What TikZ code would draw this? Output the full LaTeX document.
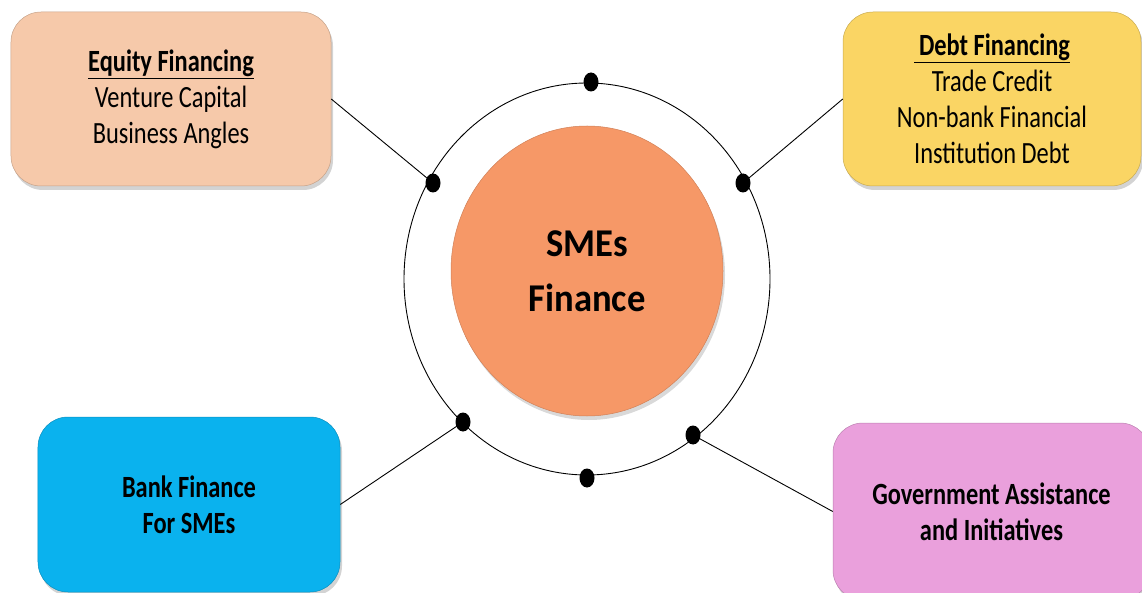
\documentclass[tikz,border=0pt]{standalone}
\usepackage{fontspec}
\setmainfont{Carlito}
\newfontfamily\tallfont[FakeStretch=0.79]{Carlito}
\newfontfamily\hubfont[FakeStretch=0.93]{Carlito}
\usetikzlibrary{shapes.geometric,shadows}

\definecolor{peach}{RGB}{246,201,170}
\definecolor{sun}{RGB}{250,213,100}
\definecolor{sky}{RGB}{10,178,238}
\definecolor{orchid}{RGB}{234,160,220}
\definecolor{coral}{RGB}{246,152,103}

\tikzset{
  topic/.style={rectangle, rounded corners=30bp, align=center,
    font=\tallfont\fontsize{31}{36}\selectfont, text=black,
    draw=#1!80!black, line width=0.5bp, fill=#1,
    drop shadow={shadow xshift=2bp, shadow yshift=-4bp, opacity=0.35}},
  hub/.style={ellipse, fill=coral, draw=coral!85!black, line width=0.5bp,
    minimum width=272bp, minimum height=290bp, inner sep=0pt,
    align=center, font=\hubfont\bfseries\fontsize{39.5}{55}\selectfont,
    drop shadow={shadow xshift=2bp, shadow yshift=-4bp, opacity=0.3}},
  ring/.style={ellipse, draw=black, line width=0.9bp,
    minimum width=366bp, minimum height=392bp, inner sep=0pt},
  knot/.style={ellipse, fill=black, inner sep=0pt,
    minimum width=15bp, minimum height=19bp},
  link/.style={draw=black, line width=0.9bp}
}

\begin{document}
\begin{tikzpicture}[x=1bp, y=-1bp]
  \useasboundingbox (0,0) rectangle (1142,593);

  % central circle with surrounding orbit
  \node[ring] (ring) at (587,279) {};
  \node[hub] (core) at (587,271) {SMEs\\Finance};

  % the four financing sources
  \node[topic=peach, minimum width=320bp, minimum height=174bp] (eq) at (171,99)
    {\textbf{\underline{Equity Financing}}\\Venture Capital\\Business Angles};
  \node[topic=sun, minimum width=298bp, minimum height=174bp] (debt) at (992,99)
    {\textbf{\underline{\hspace{5bp}Debt Financing}}\\Trade Credit\\Non-bank Financial\\Institution Debt};
  \node[topic=sky, minimum width=302bp, minimum height=175bp] (bank) at (189,504.5)
    {\bfseries Bank Finance\\\bfseries For SMEs};
  \node[topic=orchid, minimum width=317bp, minimum height=177bp] (gov) at (991.5,511.5)
    {\bfseries Government Assistance\\\bfseries and Initiatives};

  % dots on the orbit
  \coordinate (p1) at (433,183);
  \coordinate (p2) at (743,183);
  \coordinate (p3) at (463,422);
  \coordinate (p4) at (693,435);

  % connectors
  \draw[link] (eq.east) -- (p1);
  \draw[link] (debt.west) -- (p2);
  \draw[link] (bank.east) -- (p3);
  \draw[link] (gov.west) -- (p4);

  \node[knot] (k1) at (p1) {};
  \node[knot] (k2) at (p2) {};
  \node[knot] (k3) at (p3) {};
  \node[knot] (k4) at (p4) {};
  \node[knot] (k5) at (591,82) {};
  \node[knot] (k6) at (587,478) {};
\end{tikzpicture}
\end{document}
